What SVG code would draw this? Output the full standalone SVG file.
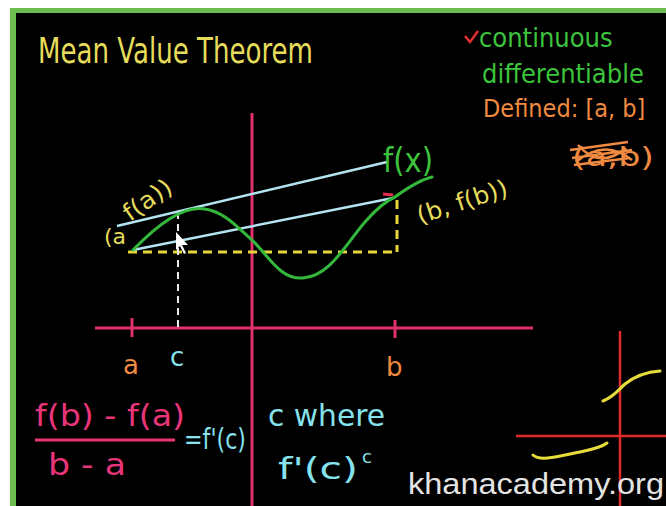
<svg xmlns="http://www.w3.org/2000/svg" width="666" height="506" viewBox="0 0 666 506">
<style>
.hw{font-family:"DejaVu Sans","Liberation Sans",sans-serif;}
.hc{font-family:"DejaVu Sans Condensed","DejaVu Sans","Liberation Sans",sans-serif;}
.ylw{fill:#e6dc5a;}
.grn{fill:#3cc43c;}
.org{fill:#f08a40;}
.pnk{fill:#e8357a;}
.cyn{fill:#86e2ec;}
.ax{stroke:#e0306e;stroke-width:3;fill:none;}
.ax2{stroke:#e02a2a;stroke-width:2.5;fill:none;}
.sec{stroke:#b4e4f2;stroke-width:2.5;fill:none;}
.crv{stroke:#34b83c;stroke-width:3;fill:none;stroke-linecap:round;}
.ycrv{stroke:#e6dc3a;stroke-width:3;fill:none;stroke-linecap:round;}
.ydash{stroke:#e6d63a;stroke-width:3;stroke-dasharray:9 6;fill:none;}
.wdash{stroke:#e8e8e8;stroke-width:2;stroke-dasharray:7 5;fill:none;}
</style>
<rect x="0" y="0" width="666" height="506" fill="#ffffff"/>
<rect x="10" y="8" width="656" height="498" fill="#6cbd4c"/>
<rect x="16" y="13" width="650" height="493" fill="#000000"/>

<g id="title">
<text class="hw ylw" x="38" y="63" font-size="36" textLength="275" lengthAdjust="spacingAndGlyphs">Mean Value Theorem</text>
</g>

<g id="conditions">
<path d="M465,36 L470,42 L478,31" stroke="#e03030" stroke-width="2.5" fill="none"/>
<text class="hc grn" x="479" y="47" font-size="27">continuous</text>
<text class="hc grn" x="482" y="83" font-size="27">differentiable</text>
<text class="hc org" x="483" y="117" font-size="25">Defined: [a, b]</text>
<text class="hw org" x="572" y="166" font-size="26" textLength="82" lengthAdjust="spacingAndGlyphs">(a,b)</text>
<path d="M570,150 L628,142 M572,158 L632,150 M574,165 L630,158 M578,145 Q600,170 626,148 M576,162 Q605,138 632,160" stroke="#f08a40" stroke-width="2.5" fill="none"/>
</g>

<g id="axes">
<line class="ax" x1="252" y1="113" x2="252" y2="506"/>
<line class="ax" x1="95" y1="328" x2="533" y2="328"/>
<line class="ax" x1="132" y1="318" x2="132" y2="337" stroke-width="2"/>
<line class="ax" x1="395" y1="320" x2="395" y2="338" stroke-width="2"/>
</g>

<g id="connectors">
<line class="ydash" x1="128" y1="252" x2="397" y2="252"/>
<line class="ydash" x1="397" y1="200" x2="397" y2="252"/>
<line class="wdash" x1="178" y1="212" x2="178" y2="330"/>
<line class="sec" x1="117" y1="226" x2="387" y2="162"/>
<line class="sec" x1="133" y1="250" x2="393" y2="198"/>
<path class="crv" d="M133,250 C160,222 185,205 205,209 C225,212 238,228 252,240 C268,255 280,280 303,278 C330,276 345,245 365,222 C378,207 388,200 395,197 C410,186 420,180 432,177"/>
<line x1="383" y1="194" x2="393" y2="195" stroke="#e03050" stroke-width="3"/>
<path d="M176,232 L176,250 L180,246 L184,254 L186,253 L182,245 L188,245 Z" fill="#ffffff"/>
</g>

<g id="curve-labels">
<text class="hw grn" x="383" y="172" font-size="34" textLength="50" lengthAdjust="spacingAndGlyphs">f(x)</text>
<text class="hw ylw" x="420" y="224" font-size="24" transform="rotate(-18 420 224)" textLength="94" lengthAdjust="spacingAndGlyphs">(b, f(b))</text>
<text class="hw ylw" x="104" y="244" font-size="22">(a</text>
<text class="hw ylw" x="130" y="222" font-size="24" transform="rotate(-35 130 222)" textLength="54" lengthAdjust="spacingAndGlyphs">f(a))</text>
</g>

<g id="tick-labels">
<text class="hw org" x="123" y="374" font-size="26">a</text>
<text class="hw cyn" x="170" y="366" font-size="26">c</text>
<text class="hw org" x="386" y="376" font-size="26">b</text>
</g>

<g id="formula">
<text class="hw pnk" x="35" y="426" font-size="30" textLength="150" lengthAdjust="spacingAndGlyphs">f(b) - f(a)</text>
<line x1="35" y1="440" x2="175" y2="440" stroke="#e8357a" stroke-width="3"/>
<text class="hw pnk" x="48" y="475" font-size="30" textLength="78" lengthAdjust="spacingAndGlyphs">b - a</text>
<text class="hw cyn" x="184" y="449" font-size="28" textLength="62" lengthAdjust="spacingAndGlyphs">=f'(c)</text>
<text class="hw cyn" x="268" y="426" font-size="30" textLength="117" lengthAdjust="spacingAndGlyphs">c where</text>
<text class="hw cyn" x="278" y="479" font-size="30" textLength="80" lengthAdjust="spacingAndGlyphs">f'(c)</text>
<text class="hw cyn" x="362" y="463" font-size="18">c</text>
</g>

<g id="small-graph">
<line class="ax2" x1="620" y1="331" x2="620" y2="506"/>
<line class="ax2" x1="516" y1="436" x2="666" y2="436"/>
<path class="ycrv" d="M603,401 C615,396 618,390 625,384 C635,376 645,372 660,371"/>
<path class="ycrv" d="M533,455 C540,462 560,456 580,452 C595,449 602,447 607,443"/>
</g>

<g id="watermark">
<text x="408" y="494" font-family="Liberation Sans, Arial, sans-serif" font-size="29" fill="#e4e4e4" textLength="256" lengthAdjust="spacingAndGlyphs">khanacademy.org</text>
</g>
</svg>
